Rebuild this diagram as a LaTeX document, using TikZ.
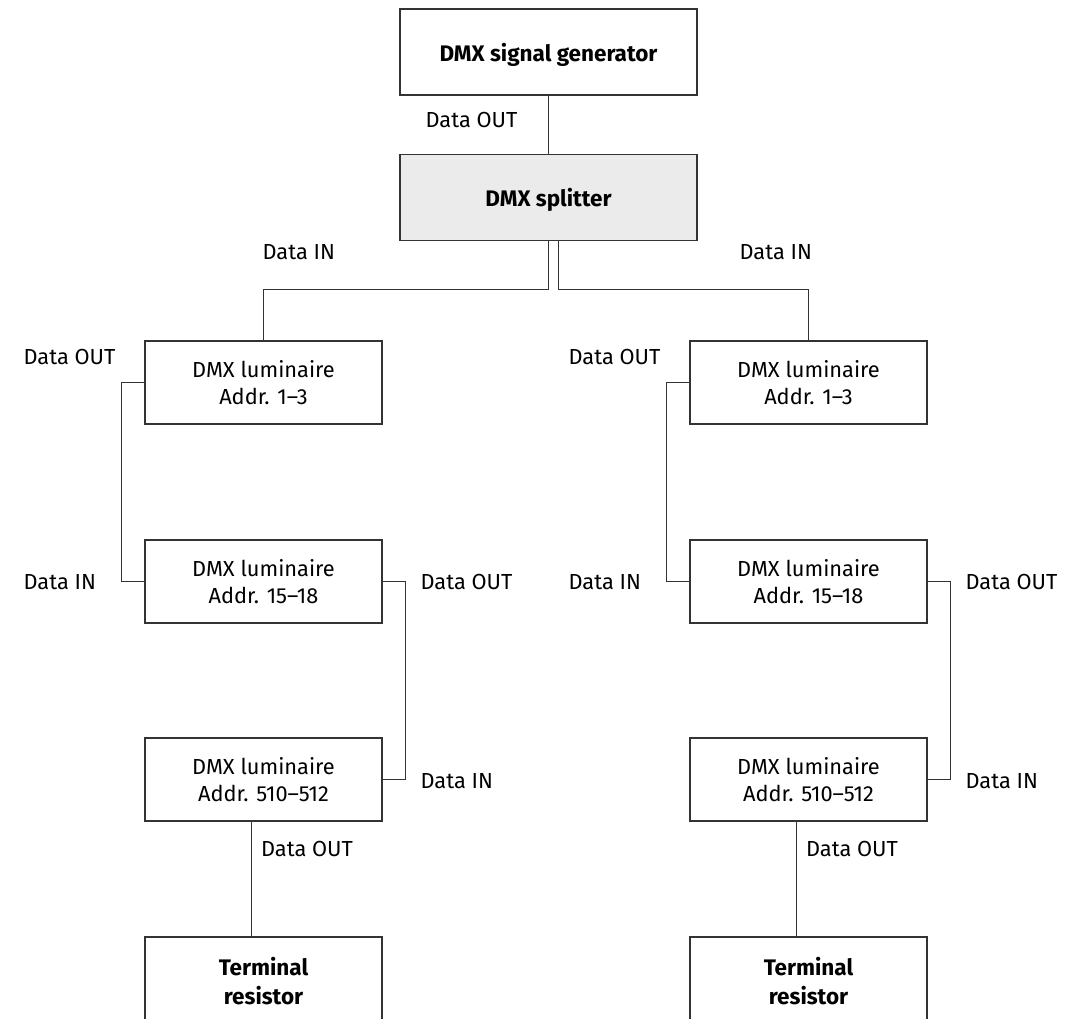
\documentclass[tikz,border=0pt]{standalone}
\usepackage{fontspec}
\setmainfont{Fira Sans}
\begin{document}
\begin{tikzpicture}[x=.025cm, y=-.025cm, line width=.9pt,
  box/.style={draw=black!80, minimum width=5.925cm, minimum height=2.075cm, align=center, font=\fontsize{15.5}{19}\selectfont},
  bigbox/.style={box, minimum width=7.425cm, minimum height=2.15cm, text depth=0pt, font=\fontsize{16}{20}\selectfont\bfseries},
  lbl/.style={anchor=west, inner sep=0pt, text=black, font=\fontsize{15.5}{17}\selectfont}]
\useasboundingbox (0,0) rectangle (1073,1019);
\clip (0,0) rectangle (1073,1019);

\node[bigbox] (gen) at (548.5,52) {DMX signal generator};
\node[bigbox, fill=black!8] (split) at (548.5,197.5) {DMX splitter};
\draw[black!80] (gen.south) -- (split.south |- split.north);
\node[lbl] at (425,120) {Data OUT};

\foreach \s/\cx/\dx in {l/263.5/0, r/808.5/.25}
{
    \node[box] (\s1) at (\cx,382.5) {DMX luminaire\\Addr. 1--3};
    \node[box] (\s2) at (\cx,581.5) {DMX luminaire\\Addr. 15--18};
    \node[box] (\s3) at (\cx,779.5) {DMX luminaire\\Addr. 510--512};
    \node[box, minimum height=2.2cm, font=\fontsize{16}{20}\selectfont\bfseries] (\s4) at (\cx,981) {Terminal\\resistor};

    \draw[black!80] ([xshift=\dx cm]split.south) -- ++(0,48) -| (\s1.north);
    \draw[black!80] (\s1.west) -- ++(-23,0) |- (\s2.west);
    \draw[black!80] (\s2.east) -- ++(23,0) |- (\s3.east);
    \draw[black!80] ([xshift=-.3cm]\s3.south) -- ([xshift=-.3cm]\s4.north);

    \node[lbl] at (\cx-240.5,357) {Data OUT};
    \node[lbl] at (\cx-240.5,582) {Data IN};
    \node[lbl] at (\cx+156.5,582) {Data OUT};
    \node[lbl] at (\cx+156.5,781) {Data IN};
    \node[lbl] at (\cx-3,849) {Data OUT};
}
\node[lbl] at (262,252) {Data IN};
\node[lbl] at (739,252) {Data IN};
\end{tikzpicture}
\end{document}
